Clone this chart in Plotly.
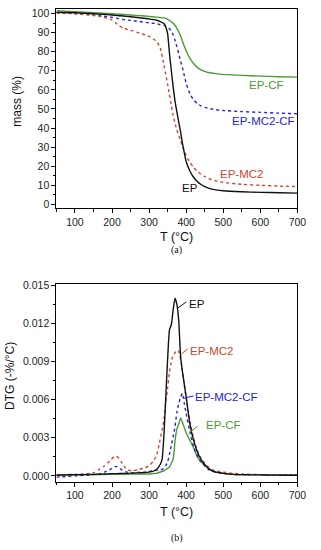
import plotly.graph_objects as go

# ---------------- TGA data (panel a) ----------------
T_tga = [50, 100, 150, 175, 200, 215, 230, 250, 275, 300, 320, 330, 340, 345, 350, 355, 360,
         365, 370, 375, 380, 385, 390, 395, 400, 410, 420, 430, 440, 450, 460, 480, 500, 550,
         600, 650, 700]
mass_EP = [100.7, 100.4, 99.9, 99.6, 99.2, 99.0, 98.7, 98.3, 97.8, 97.2, 96.5, 95.8, 94.8, 93.0,
           89.5, 79.0, 70.0, 61.4, 54.0, 48.5, 43.0, 38.0, 32.0, 27.0, 22.5, 17.5, 14.2, 12.0,
           10.4, 9.3, 8.5, 7.6, 7.1, 6.6, 6.3, 6.1, 5.9]
mass_EP_MC2 = [100.3, 99.9, 99.0, 98.2, 96.6, 94.3, 92.3, 91.2, 89.7, 88.0, 85.5, 82.0, 73.0,
               68.0, 63.0, 57.5, 52.0, 46.5, 42.5, 39.0, 36.0, 33.5, 30.5, 28.0, 25.8, 22.0,
               19.3, 17.3, 15.8, 14.6, 13.6, 12.3, 11.5, 10.5, 10.0, 9.6, 9.3]
mass_EP_CF = [101.5, 101.0, 100.5, 100.2, 99.9, 99.7, 99.5, 99.2, 98.9, 98.5, 98.1, 97.9, 97.7,
              97.5, 97.0, 96.4, 95.6, 94.9, 93.8, 92.2, 90.3, 88.2, 85.5, 82.8, 80.5, 76.5,
              73.8, 71.8, 70.5, 69.7, 69.1, 68.5, 68.1, 67.6, 67.2, 66.9, 66.7]
mass_EP_MC2_CF = [100.5, 100.0, 99.3, 98.7, 98.0, 97.4, 96.9, 96.4, 95.8, 95.1, 94.7, 94.2, 93.8,
                  93.4, 92.8, 92.0, 90.8, 88.8, 86.0, 82.5, 79.0, 75.0, 71.5, 67.5, 63.5, 58.0,
                  54.8, 52.8, 51.6, 50.8, 50.3, 49.6, 49.2, 48.6, 48.2, 47.8, 47.5]

# ---------------- DTG data (panel b) ----------------
T_dtg = [50, 75, 100, 125, 150, 165, 180, 195, 205, 210, 215, 225, 240, 255, 270, 285, 300, 310,
         320, 330, 335, 340, 345, 350, 355, 360, 365, 370, 375, 380, 385, 390, 395, 400, 410, 420,
         430, 440, 450, 460, 470, 480, 500, 525, 550, 575, 600, 625, 650, 675, 700]
dtg_EP = [0.00005, 0.00008, 0.0001, 0.0001, 0.00012, 0.00013, 0.00015, 0.00017, 0.00018, 0.00018,
          0.00018, 0.0002, 0.0002, 0.00022, 0.00024, 0.00026, 0.0003, 0.00035, 0.0005, 0.0009,
          0.0013, 0.0032, 0.0062, 0.0092, 0.0115, 0.0119, 0.0131, 0.0140, 0.0135, 0.0122,
          0.0094, 0.0082, 0.0072, 0.0062, 0.0041, 0.0028, 0.0019, 0.0013, 0.0009, 0.0006,
          0.0004, 0.0003, 0.0002, 0.00012, 0.0001, 0.00008, 0.00008, 0.00006, 0.00006,
          0.00005, 0.00005]
dtg_EP_MC2 = [0.00008, 0.0001, 0.00012, 0.00015, 0.00025, 0.0005, 0.0008, 0.0012, 0.0015,
              0.00153, 0.0015, 0.0011, 0.0005, 0.0004, 0.0005, 0.0006, 0.0008, 0.0011, 0.0016,
              0.0029, 0.0036, 0.0044, 0.0058, 0.0069, 0.0082, 0.0090, 0.0095, 0.0097, 0.0099,
              0.0098, 0.0092, 0.0082, 0.0071, 0.0062, 0.0043, 0.0030, 0.0020, 0.0014, 0.0010,
              0.0007, 0.0005, 0.0004, 0.0003, 0.0002, 0.00015, 0.00012, 0.0001, 0.0001,
              0.00008, 0.00008, 0.00008]
dtg_EP_MC2_CF = [-0.0001, -0.00005, 0.0, 0.00005, 0.0001, 0.00015, 0.0003, 0.0005, 0.0007,
                 0.00075, 0.0007, 0.0005, 0.0003, 0.00025, 0.00028, 0.0003, 0.00035, 0.0004,
                 0.00045, 0.0005, 0.0005, 0.0006, 0.0008, 0.0011, 0.0017, 0.0024, 0.0031,
                 0.0039, 0.0050, 0.0057, 0.0062, 0.0065, 0.0057, 0.0049, 0.0035, 0.0023, 0.0016,
                 0.0011, 0.0008, 0.0005, 0.0004, 0.0003, 0.0002, 0.00012, 0.0001, 0.0001,
                 0.0001, 0.00008, 0.00008, 0.00006, 0.00006]
dtg_EP_CF = [0.00005, 0.00006, 0.00008, 0.0001, 0.0001, 0.0001, 0.00011, 0.00012, 0.00012,
             0.00012, 0.00012, 0.00013, 0.00013, 0.00014, 0.00014, 0.00015, 0.00015, 0.00018,
             0.0002, 0.0003, 0.00035, 0.0004, 0.0005, 0.0006, 0.0007, 0.001, 0.0013, 0.0028,
             0.0037, 0.0041, 0.00456, 0.0042, 0.0038, 0.0034, 0.0028, 0.0022, 0.0015, 0.0011,
             0.0008, 0.0006, 0.0004, 0.0003, 0.0002, 0.00012, 0.0001, 0.0001, 0.0001, 0.00008,
             0.00008, 0.00006, 0.00006]

x_ticks = [100, 200, 300, 400, 500, 600, 700]
y1_ticks = [0, 10, 20, 30, 40, 50, 60, 70, 80, 90, 100]
y2_ticks = [0.000, 0.003, 0.006, 0.009, 0.012, 0.015]
y2_ticklabels = ["0.000", "0.003", "0.006", "0.009", "0.012", "0.015"]

C_EP = "#111111"
C_MC2 = "#c8482f"
C_CF = "#4a9a32"
C_MC2CF = "#2424d4"

W, H = 321, 550
FONT = "Liberation Sans, Arial, sans-serif"

fig = go.Figure()

def add(x, y, color, dash, xa, ya):
    fig.add_trace(go.Scatter(x=x, y=y, mode="lines", xaxis=xa, yaxis=ya,
                             line=dict(color=color, width=1.4, dash=dash, shape="spline", smoothing=0.5),
                             showlegend=False, hoverinfo="skip"))

add(T_tga, mass_EP_CF, C_CF, "solid", "x", "y")
add(T_tga, mass_EP_MC2_CF, C_MC2CF, "dot", "x", "y")
add(T_tga, mass_EP_MC2, C_MC2, "dot", "x", "y")
add(T_tga, mass_EP, C_EP, "solid", "x", "y")

add(T_dtg, dtg_EP_CF, C_CF, "solid", "x2", "y2")
add(T_dtg, dtg_EP_MC2_CF, C_MC2CF, "dot", "x2", "y2")
add(T_dtg, dtg_EP_MC2, C_MC2, "dot", "x2", "y2")
add(T_dtg, dtg_EP, C_EP, "solid", "x2", "y2")

def px2paper_x(px):
    return px / W

def px2paper_y(py):
    return 1 - py / H

xdom = [px2paper_x(58), px2paper_x(306)]

axis_common = dict(showline=True, linecolor="black", linewidth=1, mirror=True,
                   ticks="outside", ticklen=4, tickcolor="black", tickwidth=1,
                   showgrid=False, zeroline=False,
                   tickfont=dict(family=FONT, size=10.5, color="#222"))
minor_common = dict(ticks="outside", ticklen=2.5, tickcolor="black", tickwidth=1, showgrid=False)

fig.update_layout(
    width=W, height=H, autosize=False,
    margin=dict(l=0, r=0, t=0, b=0),
    paper_bgcolor="white", plot_bgcolor="white",
    xaxis=dict(domain=xdom, range=[50, 700], tickvals=x_ticks, anchor="y",
               minor=dict(dtick=50, tick0=50, **minor_common), **axis_common),
    yaxis=dict(domain=[px2paper_y(206), px2paper_y(4)], range=[-2.1, 102.4], tickvals=y1_ticks,
               anchor="x", minor=dict(dtick=5, tick0=0, **minor_common), **axis_common),
    xaxis2=dict(domain=xdom, range=[50, 700], tickvals=x_ticks, anchor="y2",
                minor=dict(dtick=50, tick0=50, **minor_common), **axis_common),
    yaxis2=dict(domain=[px2paper_y(483), px2paper_y(283)], range=[-0.00047, 0.01508],
                tickvals=y2_ticks, ticktext=y2_ticklabels, anchor="x2",
                minor=dict(dtick=0.0015, tick0=0, **minor_common), **axis_common),
)

ann = []
def paper_text(text, px, py, size=12, angle=0, family=FONT):
    ann.append(dict(text=text, x=px2paper_x(px), y=px2paper_y(py), xref="paper", yref="paper",
                    showarrow=False, textangle=angle, xanchor="center", yanchor="middle",
                    borderpad=0, font=dict(family=family, size=size, color="#111")))

paper_text("mass (%)", 18, 97.5, 12, -90)
paper_text("T (°C)", 182, 234.5, 12.5)
paper_text("(a)", 182, 248, 10, family="Liberation Serif, Times New Roman, serif")
paper_text("DTG (-%/°C)", 11, 376, 12, -90)
paper_text("T (°C)", 182, 514, 12.5)
paper_text("(b)", 182, 540, 10, family="Liberation Serif, Times New Roman, serif")

def data_text(text, x, y, color, xa, ya, anchor="center"):
    ann.append(dict(text=text, x=x, y=y, xref=xa, yref=ya, showarrow=False,
                    xanchor=anchor, yanchor="middle", borderpad=0,
                    font=dict(family=FONT, size=11.5, color=color)))

data_text("EP-CF", 616, 62.5, C_CF, "x", "y")
data_text("EP-MC2-CF", 608, 43.8, C_MC2CF, "x", "y")
data_text("EP-MC2", 548, 16.1, C_MC2, "x", "y")
data_text("EP", 409, 8.4, C_EP, "x", "y")

data_text("EP", 405, 0.01355, C_EP, "x2", "y2", "left")
data_text("EP-MC2", 408, 0.00987, C_MC2, "x2", "y2", "left")
data_text("EP-MC2-CF", 421, 0.00624, C_MC2CF, "x2", "y2", "left")
data_text("EP-CF", 452, 0.00404, C_CF, "x2", "y2", "left")

fig.update_layout(annotations=ann)

# leader lines from curve peaks to labels
leaders = [
    (378.3, 0.01324, 400.3, 0.0137, C_EP),
    (387.2, 0.00961, 404.5, 0.0100, C_MC2),
    (394.0, 0.00612, 420.2, 0.0063, C_MC2CF),
    (406.3, 0.00334, 430.7, 0.00391, C_CF),
]
for x0, y0, x1, y1, c in leaders:
    fig.add_shape(type="line", x0=x0, y0=y0, x1=x1, y1=y1, xref="x2", yref="y2",
                  line=dict(color=c, width=1))

# remove the default 8 px page margin so the figure sits at the window's corner
fig.write_html("out.html", config={"displayModeBar": False},
               post_script="document.body.style.margin='0';")
